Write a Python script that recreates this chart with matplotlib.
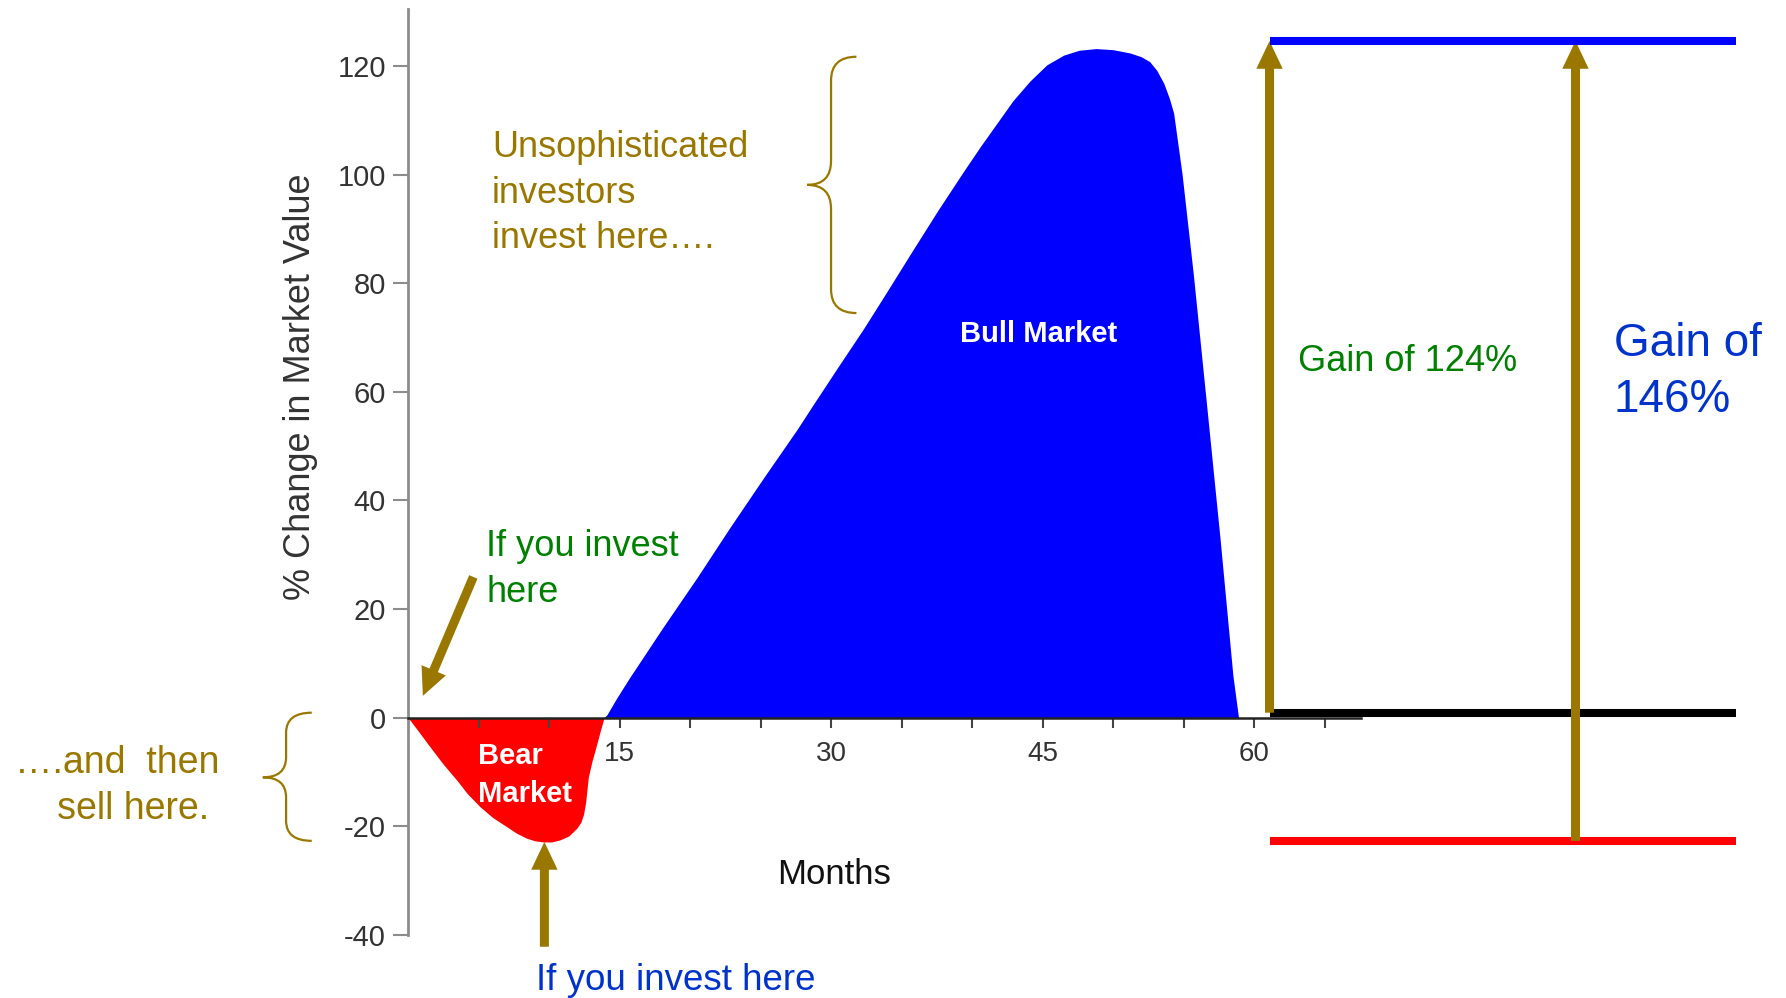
import matplotlib
matplotlib.use("Agg")
import matplotlib.pyplot as plt
from matplotlib.path import Path
from matplotlib.patches import PathPatch

# curve (months, % change)
bear_months = [0, 0.7, 1.56, 2.5, 3.45, 4.2, 5.1, 6.0, 7.0, 7.7, 8.4, 9.0, 9.6, 10.2, 10.8,
               11.4, 11.96, 12.25, 12.45, 12.6, 12.79, 13.05, 13.33, 13.6, 13.9]
bear_values = [0, -2.4, -5.4, -8.6, -11.5, -14.0, -16.4, -18.4, -20.1, -21.3, -22.2, -22.7, -22.9,
               -22.9, -22.5, -21.8, -20.4, -19.3, -17.8, -15.5, -10.9, -8.0, -5.4, -2.8, 0]

bull_months = [13.9, 14.1, 14.8, 15.7, 18.1, 20.5, 22.8, 25.2, 27.6, 28.7, 30.5, 32.3, 34.0,
               35.8, 37.6, 39.4, 40.6, 41.75, 42.9, 44.1, 45.3, 46.5, 47.6, 48.8, 50.0,
               51.2, 52.0, 52.6, 53.1, 53.6, 54.0, 54.3, 54.9, 55.7, 56.6, 57.6, 58.5, 58.9]
bull_values = [0, 0.5, 3.6, 7.3, 16.7, 25.8, 34.9, 44.1, 53.1, 57.5, 64.6, 71.6, 78.6,
               86.1, 93.5, 100.6, 105.2, 109.4, 113.6, 117.2, 120.2, 122.0, 122.9, 123.2, 123.0,
               122.4, 121.7, 120.8, 119.2, 116.8, 114.0, 111.3, 100, 81.5, 58.5, 32.7, 7.8, 0]

y_ticks = [-40, -20, 0, 20, 40, 60, 80, 100, 120]
x_ticks = [5, 10, 15, 20, 25, 30, 35, 40, 45, 50, 55, 60, 65]
x_labels = ["", "", "15", "", "", "30", "", "", "45", "", "", "60", ""]

# levels used by the gain comparison on the right
peak_level = 124.6
zero_level = 0.9
trough_level = -22.7

OLIVE = "#9a7800"
GREEN = "#008000"
TEXT_BLUE = "#0033cc"

plt.rcParams["font.family"] = ["Liberation Sans", "DejaVu Sans"]


def draw_brace(ax, x_end, x_stem, x_tip, y_top, y_bot, y_mid, r):
    """curly brace opening to the right, pointing left"""
    verts = [(x_end, y_top), (x_stem, y_top), (x_stem, y_top - r),
             (x_stem, y_mid + r),
             (x_stem, y_mid), (x_tip, y_mid),
             (x_stem, y_mid), (x_stem, y_mid - r),
             (x_stem, y_bot + r),
             (x_stem, y_bot), (x_end, y_bot)]
    codes = [Path.MOVETO, Path.CURVE3, Path.CURVE3,
             Path.LINETO,
             Path.CURVE3, Path.CURVE3,
             Path.CURVE3, Path.CURVE3,
             Path.LINETO,
             Path.CURVE3, Path.CURVE3]
    ax.add_patch(PathPatch(Path(verts, codes), fill=False, ec=OLIVE, lw=1.6,
                           clip_on=False))


def draw_arrow(ax, tail, tip):
    ax.annotate("", xy=tip, xytext=tail,
                arrowprops=dict(arrowstyle="simple,head_width=1.9,head_length=2.0,tail_width=0.65",
                                mutation_scale=10, fc=OLIVE, ec="none", lw=0,
                                shrinkA=0, shrinkB=0),
                zorder=4, annotation_clip=False)


fig = plt.figure(figsize=(17.86, 9.98), dpi=100)
ax = fig.add_axes([0, 0, 1, 1])
ax.set_xlim(-28.94, 97.73)
ax.set_ylim(-51.64, 132.15)

ax.fill_between(bear_months, bear_values, 0, color="#ff0000", lw=0)
ax.fill_between(bull_months, bull_values, 0, color="#0000ff", lw=0)

for side in ["top", "right"]:
    ax.spines[side].set_visible(False)
ax.spines["left"].set_position(("data", 0))
ax.spines["left"].set_bounds(-40, 130.5)
ax.spines["left"].set_color("#8c8c8c")
ax.spines["left"].set_linewidth(2)
ax.spines["bottom"].set_position(("data", 0))
ax.spines["bottom"].set_bounds(0, 67.6)
ax.spines["bottom"].set_color("#222222")
ax.spines["bottom"].set_linewidth(1.8)

ax.set_yticks(y_ticks)
ax.set_yticklabels([str(v) for v in y_ticks])
ax.set_xticks(x_ticks)
ax.set_xticklabels(x_labels)
ax.tick_params(axis="y", direction="out", length=11, width=1.5, color="#8c8c8c",
               labelsize=21, labelcolor="#333333", pad=5)
ax.tick_params(axis="x", direction="out", length=7, width=1.5, color="#444444",
               labelsize=20, labelcolor="#333333", pad=10)

ax.text(-7.66, 61, "% Change in Market Value", rotation=90, ha="center", va="center",
        fontsize=26, color="#333333")
ax.text(26.2, -30.6, "Months", ha="left", va="baseline", fontsize=25, color="#111111")

# va="baseline" on multi-line text sits on the last line's baseline
ax.text(44.7, 70.7, "Bull Market", ha="center", va="center", fontsize=21,
        fontweight="bold", color="white")
ax.text(4.96, -15.5, "Bear\nMarket", ha="left", va="baseline", fontsize=21,
        fontweight="bold", color="white", linespacing=1.43)

ax.text(5.96, 86.4, "Unsophisticated\ninvestors\ninvest here….", ha="left", va="baseline",
        fontsize=26, color=OLIVE, linespacing=1.4)
ax.text(5.53, 21.3, "If you invest\nhere", ha="left", va="baseline",
        fontsize=26, color=GREEN, linespacing=1.4)
ax.text(-20.6, -18.7, "….and  then\n   sell here.", ha="center", va="baseline",
        multialignment="center", fontsize=27, color=OLIVE, linespacing=1.35, clip_on=False)
ax.text(9.1, -50.2, "If you invest here", ha="left", va="baseline",
        fontsize=26.5, color=TEXT_BLUE)

draw_brace(ax, 31.8, 30.0, 28.3, 121.7, 74.5, 98.1, 4.4)
draw_brace(ax, -6.83, -8.65, -10.3, 0.9, -22.7, -11.0, 3.7)

draw_arrow(ax, (4.63, 25.9), (1.05, 4.0))
draw_arrow(ax, (9.67, -42.2), (9.67, -22.9))

# right side comparison
ax.plot([61.1, 94.2], [zero_level, zero_level], color="black", lw=5.8,
        solid_capstyle="butt", zorder=3)
ax.plot([61.1, 94.2], [trough_level, trough_level], color="#ff0000", lw=5.8,
        solid_capstyle="butt", zorder=3)
draw_arrow(ax, (61.1, zero_level), (61.1, peak_level))
draw_arrow(ax, (82.8, trough_level), (82.8, peak_level))
ax.plot([61.1, 94.2], [peak_level, peak_level], color="#0000ff", lw=5.8,
        solid_capstyle="butt", zorder=5)

ax.text(63.1, 63.9, "Gain of 124%", ha="left", va="baseline", fontsize=26, color=GREEN)
ax.text(85.5, 56.3, "Gain of\n146%", ha="left", va="baseline", fontsize=33,
        color=TEXT_BLUE, linespacing=1.35)

fig.savefig("out.png", dpi=100)
